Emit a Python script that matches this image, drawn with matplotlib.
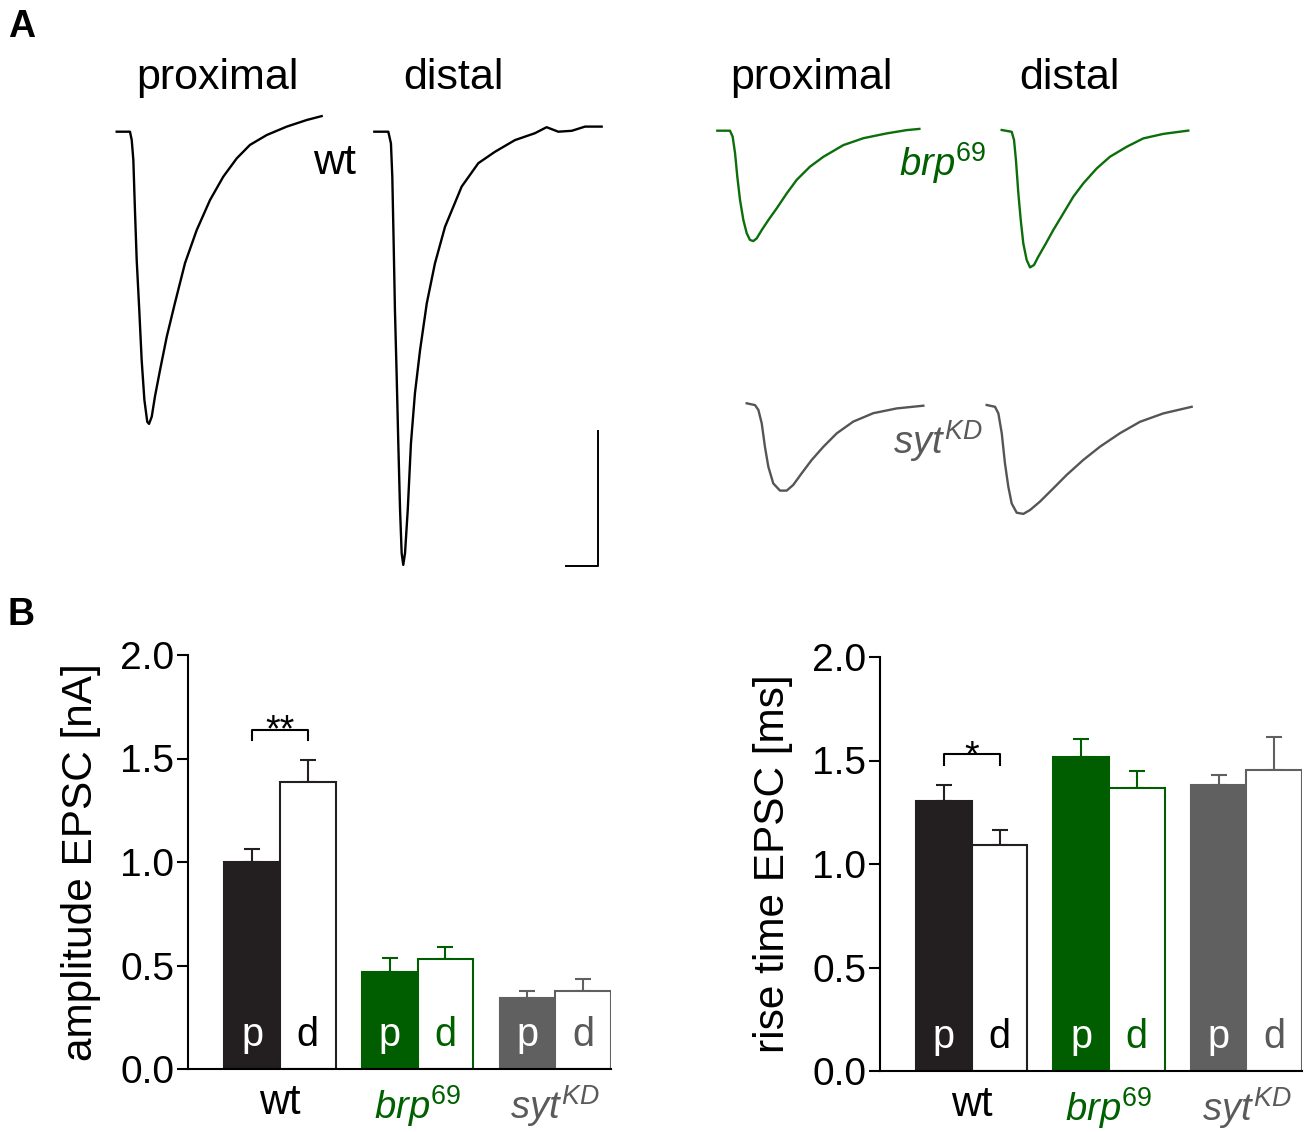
import numpy as np
import matplotlib
matplotlib.use('Agg')
import matplotlib.pyplot as plt

plt.rcParams['font.family'] = ['Liberation Sans', 'DejaVu Sans']
plt.rcParams['mathtext.fontset'] = 'custom'
plt.rcParams['mathtext.rm'] = 'Liberation Sans'
plt.rcParams['mathtext.it'] = 'Liberation Sans:italic'

# ---- data: bar charts (mean, upper SEM) ----
groups = ['wt', r'$\mathit{brp}^{\mathit{69}}$', r'$\mathit{syt}^{\mathit{KD}}$']
amp_prox = [1.00, 0.47, 0.345]
amp_prox_err = [0.063, 0.067, 0.033]
amp_dist = [1.385, 0.533, 0.375]
amp_dist_err = [0.11, 0.055, 0.062]
rise_prox = [1.305, 1.515, 1.38]
rise_prox_err = [0.075, 0.09, 0.052]
rise_dist = [1.092, 1.366, 1.452]
rise_dist_err = [0.071, 0.083, 0.163]

# ---- data: example EPSC traces (time in ms, current in nA) ----
wt_prox_t = [0, 0.83, 0.94, 1.04, 1.14, 1.25, 1.41, 1.56, 1.73, 1.91, 2.02, 2.19, 2.39,
             2.71, 3.13, 3.64, 4.27, 5.0, 5.83, 6.66, 7.5, 8.33, 9.38, 10.63, 11.88, 12.81]
wt_prox_i = [0, 0, -0.028, -0.094, -0.261, -0.428, -0.594, -0.761, -0.894, -0.967, -0.974,
             -0.95, -0.883, -0.794, -0.683, -0.571, -0.438, -0.328, -0.228, -0.15, -0.089,
             -0.044, -0.011, 0.017, 0.039, 0.052]
wt_dist_t = [0, 0.875, 1.04, 1.125, 1.21, 1.29, 1.4, 1.5, 1.61, 1.71, 1.81, 1.92, 2.09,
             2.29, 2.54, 2.86, 3.28, 3.79, 4.42, 5.46, 6.5, 7.54, 8.79, 10.04, 10.77, 11.5,
             12.34, 13.17, 14.21]
wt_dist_i = [0, 0, -0.039, -0.15, -0.372, -0.594, -0.817, -1.039, -1.261, -1.405, -1.444,
             -1.405, -1.261, -1.039, -0.872, -0.728, -0.572, -0.439, -0.317, -0.183, -0.105,
             -0.067, -0.028, -0.005, 0.015, 0.0, 0.003, 0.017, 0.017]
brp_prox_t = [0, 0.79, 0.96, 1.11, 1.25, 1.42, 1.63, 1.84, 2.04, 2.25, 2.46, 2.78, 3.19,
              3.71, 4.34, 4.96, 5.79, 6.63, 7.88, 9.13, 10.59, 11.84, 12.63]
brp_prox_i = [0, 0, -0.02, -0.075, -0.153, -0.231, -0.298, -0.342, -0.364, -0.368, -0.359,
              -0.331, -0.298, -0.259, -0.209, -0.164, -0.12, -0.087, -0.048, -0.025, -0.009,
              0.002, 0.006]
brp_dist_t = [0, 0.625, 0.77, 0.89, 1.04, 1.19, 1.35, 1.56, 1.77, 2.02, 2.29, 2.71, 3.23,
              3.85, 4.48, 5.1, 5.94, 6.77, 7.81, 8.85, 10.1, 11.66]
brp_dist_i = [0, -0.006, -0.033, -0.1, -0.211, -0.30, -0.378, -0.433, -0.458, -0.45, -0.422,
              -0.383, -0.333, -0.278, -0.222, -0.178, -0.128, -0.089, -0.056, -0.028, -0.013,
              -0.002]
syt_prox_t = [0, 0.52, 0.73, 0.94, 1.14, 1.35, 1.66, 2.08, 2.5, 2.91, 3.44, 4.06, 4.79,
              5.63, 6.66, 7.91, 9.38, 11.04]
syt_prox_i = [0, -0.006, -0.022, -0.067, -0.145, -0.211, -0.267, -0.291, -0.291, -0.272,
              -0.233, -0.189, -0.145, -0.1, -0.061, -0.033, -0.017, -0.008]
syt_dist_t = [0, 0.52, 0.73, 0.94, 1.14, 1.35, 1.56, 1.875, 2.29, 2.71, 3.33, 4.16, 5.0,
              6.04, 7.08, 8.33, 9.58, 11.04, 12.81]
syt_dist_i = [0, -0.006, -0.028, -0.094, -0.194, -0.272, -0.328, -0.359, -0.363, -0.35,
              -0.322, -0.278, -0.233, -0.183, -0.139, -0.094, -0.056, -0.028, -0.006]

BLACK = '#231f20'
GREEN = '#005e00'
GRAY = '#606060'
fill_colors = [BLACK, GREEN, GRAY]
text_colors = ['black', '#006000', '#5a5a5a']

W, H = 1306, 1132
fig = plt.figure(figsize=(W / 100, H / 100), dpi=100)

# ---- panel A: traces on a canvas scaled in ms / nA ----
PX_MS = 16.0
PX_NA = 300.0
axA = fig.add_axes([0, 0, 1, 1])
axA.set_xlim(0, W / PX_MS)
axA.set_ylim(-H / PX_NA, 0)
axA.axis('off')


def trace(t, i, x0, y0, color):
    axA.plot(np.array(t) + x0 / PX_MS, np.array(i) - y0 / PX_NA, color=color, lw=1.7,
             solid_joinstyle='round')


trace(wt_prox_t, wt_prox_i, 116.7, 131.7, 'black')
trace(wt_dist_t, wt_dist_i, 374.3, 131.7, 'black')
trace(brp_prox_t, brp_prox_i, 717.3, 130.7, '#0b6e0b')
trace(brp_dist_t, brp_dist_i, 1001.7, 130, '#0b6e0b')
trace(syt_prox_t, syt_prox_i, 746.7, 403.3, '#555555')
trace(syt_dist_t, syt_dist_i, 986.7, 405, '#555555')

# scale bar (2 ms, 0.45 nA)
sx, sy = 597.5 / PX_MS, -565.5 / PX_NA
axA.plot([sx - 2, sx, sx], [sy, sy, sy + 0.45], color='black', lw=1.4)

tfs = 31
for x, s in [(217, 'proximal'), (453, 'distal'), (811, 'proximal'), (1069, 'distal')]:
    fig.text(x / W, 1 - 78 / H, s, ha='center', va='center', fontsize=tfs)
fig.text(335 / W, 1 - 163 / H, 'wt', ha='center', va='center', fontsize=tfs)
fig.text(987 / W, 1 - 163 / H, groups[1], ha='right', va='center', fontsize=27.5,
         color=text_colors[1])
fig.text(983 / W, 1 - 441 / H, groups[2], ha='right', va='center', fontsize=27.5,
         color=text_colors[2])

fig.text(8 / W, 1 - 9 / H, 'A', ha='left', va='top', fontsize=27, weight='bold')
fig.text(8 / W, 1 - 597 / H, 'B', ha='left', va='top', fontsize=27, weight='bold')

# ---- panel B: bar charts ----
STEP = 2.47


def bar_panel(rect, prox, prox_err, dist, dist_err, ylabel, star, y_top, star_base):
    ax = fig.add_axes(rect)
    for k in range(3):
        g = k * STEP
        c = fill_colors[k]
        ax.bar(g, prox[k], width=1, color=c, edgecolor=c, linewidth=1.5, zorder=2)
        ax.bar(g + 1, dist[k], width=1, color='white', edgecolor=c, linewidth=1.5, zorder=2)
        ax.errorbar(g, prox[k], yerr=[[0], [prox_err[k]]], fmt='none', ecolor=c,
                    elinewidth=1.5, capsize=5.5, capthick=1.5, zorder=1)
        ax.errorbar(g + 1, dist[k], yerr=[[0], [dist_err[k]]], fmt='none', ecolor=c,
                    elinewidth=1.5, capsize=5.5, capthick=1.5, zorder=1)
        ax.text(g, 0.11, 'p', ha='center', va='baseline', fontsize=28.5, color='white')
        ax.text(g + 1, 0.11, 'd', ha='center', va='baseline', fontsize=28.5,
                color=text_colors[k])
    ax.plot([0, 0, 1, 1], [y_top - 0.05, y_top, y_top, y_top - 0.05], color='black', lw=1.5)
    ax.text(0.5, star_base, star, ha='center', va='baseline', fontsize=27)
    ax.set_xlim(-1.15, 2 * STEP + 1.5)
    ax.set_ylim(0, 2.0)
    ax.set_yticks([0, 0.5, 1.0, 1.5, 2.0])
    ax.set_yticklabels(['0.0', '0.5', '1.0', '1.5', '2.0'])
    ax.set_xticks([g * STEP + 0.5 for g in range(3)])
    ax.set_xticklabels(groups)
    for lab, c, fs in zip(ax.get_xticklabels(), text_colors, [30, 27.5, 27.5]):
        lab.set_color(c)
        lab.set_fontsize(fs)
    ax.tick_params(axis='y', length=8, width=1.5, labelsize=28, pad=2)
    ax.tick_params(axis='x', length=0, pad=10)
    for s in ['top', 'right']:
        ax.spines[s].set_visible(False)
    for s in ['left', 'bottom']:
        ax.spines[s].set_linewidth(1.5)
    ax.set_ylabel(ylabel, fontsize=30.5, labelpad=14)
    return ax


bar_panel([188 / W, 1 - 1069 / H, 423 / W, 414 / H], amp_prox, amp_prox_err,
          amp_dist, amp_dist_err, 'amplitude EPSC [nA]', '**', 1.64, 1.585)
bar_panel([880 / W, 1 - 1071 / H, 422 / W, 414 / H], rise_prox, rise_prox_err,
          rise_dist, rise_dist_err, 'rise time EPSC [ms]', '*', 1.53, 1.467)

fig.savefig('out.png', dpi=100)
